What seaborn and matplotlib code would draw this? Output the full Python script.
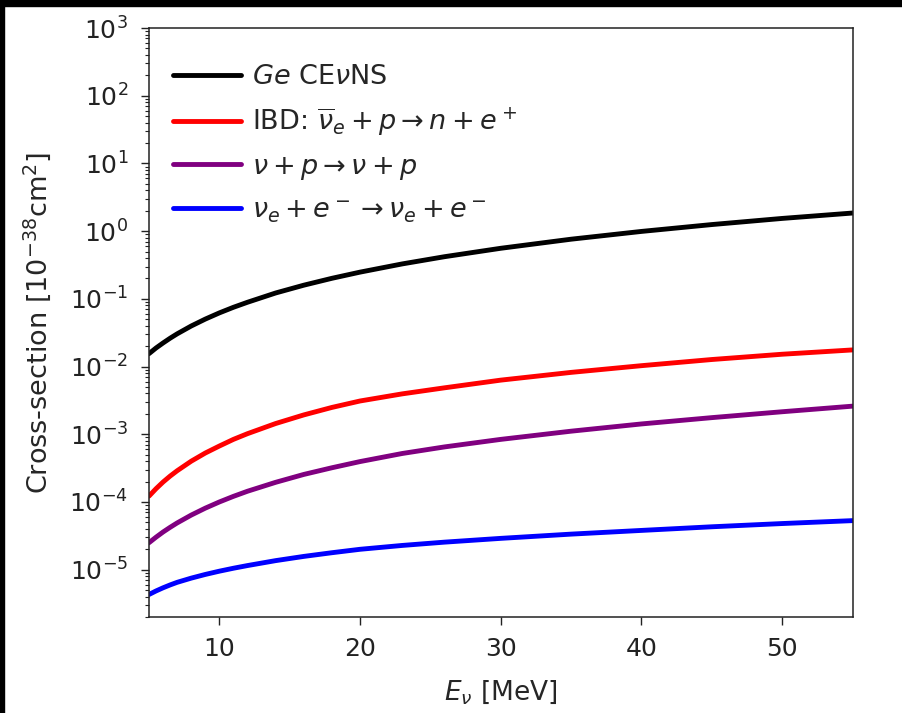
import matplotlib
matplotlib.use("Agg")
import matplotlib.pyplot as plt
from matplotlib.patches import Rectangle
import pandas as pd
import seaborn as sns

# Neutrino energy grid [MeV]
energy = [5, 5.5, 6, 6.5, 7, 8, 9, 10, 11, 12, 14, 16, 18, 20, 23, 26, 30,
          35, 40, 45, 50, 55]

# Cross-sections in units of 1e-38 cm^2
ge_cevns = [0.0155, 0.0188, 0.0223, 0.0262, 0.0304, 0.0397, 0.0502, 0.062,
            0.075, 0.089, 0.122, 0.159, 0.201, 0.248, 0.328, 0.419, 0.558,
            0.76, 0.99, 1.25, 1.54, 1.85]
ibd = [1.22e-4, 1.57e-4, 1.97e-4, 2.41e-4, 2.89e-4, 4.0e-4, 5.28e-4, 6.7e-4,
       8.4e-4, 1.02e-3, 1.44e-3, 1.93e-3, 2.49e-3, 3.1e-3, 3.95e-3, 4.85e-3,
       6.3e-3, 8.2e-3, 1.03e-2, 1.27e-2, 1.52e-2, 1.76e-2]
nu_p = [2.5e-5, 3.02e-5, 3.6e-5, 4.22e-5, 4.9e-5, 6.4e-5, 8.1e-5, 1.0e-4,
        1.21e-4, 1.44e-4, 1.95e-4, 2.55e-4, 3.2e-4, 3.95e-4, 5.2e-4, 6.5e-4,
        8.4e-4, 1.11e-3, 1.42e-3, 1.76e-3, 2.15e-3, 2.6e-3]
nue_e = [4.3e-6, 4.85e-6, 5.4e-6, 5.95e-6, 6.5e-6, 7.5e-6, 8.5e-6, 9.5e-6,
         1.05e-5, 1.15e-5, 1.36e-5, 1.57e-5, 1.78e-5, 2.0e-5, 2.28e-5, 2.55e-5,
         2.9e-5, 3.35e-5, 3.8e-5, 4.3e-5, 4.8e-5, 5.3e-5]

labels = [r"$Ge$ CE$\nu$NS",
          r"IBD: $\overline{\nu}_e + p \rightarrow n + e^+$",
          r"$\nu + p \rightarrow \nu + p$",
          r"$\nu_e + e^- \rightarrow \nu_e + e^-$"]
colors = ["black", "red", "purple", "blue"]
series = [ge_cevns, ibd, nu_p, nue_e]

x_ticks = [10, 20, 30, 40, 50]
y_ticks = [1e-5, 1e-4, 1e-3, 1e-2, 1e-1, 1e0, 1e1, 1e2, 1e3]

sns.set_style("ticks")
plt.rcParams.update({
    "font.family": ["DejaVu Sans"],
    "mathtext.fontset": "dejavusans",
    "font.size": 18,
    "axes.linewidth": 1.1,
    "axes.edgecolor": "#222222",
    "xtick.major.size": 6,
    "ytick.major.size": 6,
    "ytick.minor.size": 3.2,
    "xtick.major.width": 1.0,
    "ytick.major.width": 1.0,
    "ytick.minor.width": 0.8,
    "xtick.major.pad": 8.5,
    "ytick.major.pad": 9,
    "xtick.color": "#222222",
    "ytick.color": "#222222",
    "xtick.labelcolor": "#222222",
    "ytick.labelcolor": "#222222",
})

fig = plt.figure(figsize=(9.03, 7.13), dpi=100)
ax = fig.add_axes([149 / 903, 1 - 617 / 713, (852.5 - 149) / 903, (617 - 28) / 713])

for vals, lab, col in zip(series, labels, colors):
    df = pd.DataFrame({"E": energy, "sigma": vals})
    sns.lineplot(data=df, x="E", y="sigma", ax=ax, color=col, linewidth=3.5,
                 label=lab)

ax.set_yscale("log")
ax.set_xlim(5, 55)
ax.set_ylim(2e-6, 1e3)
ax.set_xticks(x_ticks)
ax.set_yticks(y_ticks)
ax.tick_params(axis="both", labelsize=18)
ax.set_xlabel(r"$E_\nu$ [MeV]", fontsize=19, labelpad=12)
ax.set_ylabel(r"Cross-section [$10^{-38}$cm$^2$]", fontsize=19.5, labelpad=12)
for side in ["top", "right"]:
    ax.spines[side].set_visible(True)

ax.legend(loc="upper left", frameon=False, fontsize=19.5, handlelength=2.5,
          handletextpad=0.4, labelspacing=0.57, borderaxespad=0.5,
          bbox_to_anchor=(0.0, 0.98))

# dark frame along the top and left edges of the canvas
fig.add_artist(Rectangle((0, 1 - 6 / 713), 1, 6 / 713, transform=fig.transFigure,
                         color="black", zorder=10))
fig.add_artist(Rectangle((0, 0), 4 / 903, 1, transform=fig.transFigure,
                         color="black", zorder=10))

fig.savefig("out.png", dpi=100)
